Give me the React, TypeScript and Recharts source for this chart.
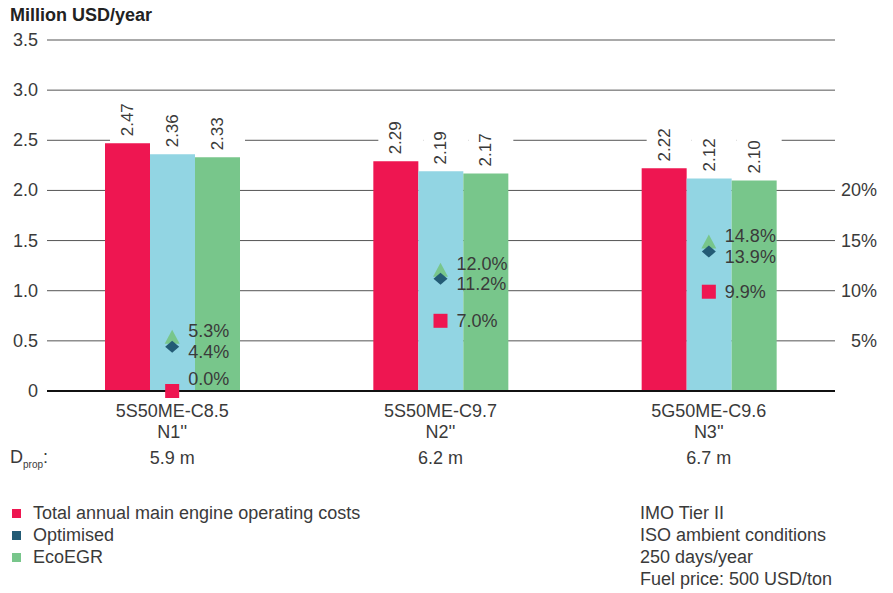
import {
  Bar,
  CartesianGrid,
  ComposedChart,
  Legend,
  ReferenceLine,
  Scatter,
  XAxis,
  YAxis,
} from "recharts";

const engines = ["5S50ME-C8.5", "5S50ME-C9.7", "5G50ME-C9.6"];
const variants = ["N1''", "N2''", "N3''"];
const propDiameters = ["5.9 m", "6.2 m", "6.7 m"];

// million USD/year
const totalCost = [2.47, 2.29, 2.22];
const optimisedCost = [2.36, 2.19, 2.12];
const ecoEgrCost = [2.33, 2.17, 2.1];

// percent
const totalPct = [0.0, 7.0, 9.9];
const optimisedPct = [4.4, 11.2, 13.9];
const ecoEgrPct = [5.3, 12.0, 14.8];

const costTicks = [0, 0.5, 1, 1.5, 2, 2.5, 3, 3.5];
const pctTicks = [5, 10, 15, 20];

const seriesNames = ["Total annual main engine operating costs", "Optimised", "EcoEGR"];
const legendColors = ["#EE1651", "#235B75", "#78C68B"];
const notes = ["IMO Tier II", "ISO ambient conditions", "250 days/year", "Fuel price: 500 USD/ton"];

const RED = "#EE1651";
const BLUE = "#92D5E3";
const GREEN = "#78C68B";
const TEAL = "#235B75";
const INK = "#3a3a3a";
const FONT = "'Liberation Sans', Arial, Helvetica, sans-serif";

const data = engines.map((engine, i) => ({
  engine,
  variant: variants[i],
  prop: propDiameters[i],
  total: totalCost[i],
  optimised: optimisedCost[i],
  ecoEgr: ecoEgrCost[i],
  totalPct: totalPct[i],
  optimisedPct: optimisedPct[i],
  ecoEgrPct: ecoEgrPct[i],
}));

function ValueLabel(props: any) {
  const { x, y, width, value } = props;
  const cx = x + width / 2;
  const y0 = y - 7;
  return (
    <g>
      <rect x={x + 5} y={y - 50} width={width} height={49} fill="#fff" />
      <text
        x={cx}
        y={y0}
        transform={`rotate(-90, ${cx}, ${y0})`}
        textAnchor="start"
        dominantBaseline="central"
        fontSize={17}
        fill={INK}
      >
        {Number(value).toFixed(2)}
      </text>
    </g>
  );
}

// percentage text beside a marker; dy keeps the stacked labels apart
function pctText(cx: number, cy: number, v: number, dy: number) {
  return (
    <text
      x={cx + 16}
      y={cy + dy}
      textAnchor="start"
      dominantBaseline="central"
      fontSize={18}
      fill={INK}
    >
      {v.toFixed(1)}%
    </text>
  );
}

function SquareMark(props: any) {
  const { cx, cy, payload } = props;
  const v = payload.totalPct;
  return (
    <g>
      <rect x={cx - 7} y={cy - 7} width={14} height={14} fill={RED} />
      {pctText(cx, cy, v, v === 0 ? -12 : 0)}
    </g>
  );
}

function DiamondMark(props: any) {
  const { cx, cy, payload } = props;
  return (
    <g>
      <polygon
        points={`${cx},${cy - 6} ${cx + 7},${cy} ${cx},${cy + 6} ${cx - 7},${cy}`}
        fill={TEAL}
      />
      {pctText(cx, cy, payload.optimisedPct, 5)}
    </g>
  );
}

function TriangleMark(props: any) {
  const { cx, cy, payload } = props;
  return (
    <g>
      <polygon
        points={`${cx},${cy - 8} ${cx + 7.5},${cy + 6} ${cx - 7.5},${cy + 6}`}
        fill={GREEN}
      />
      {pctText(cx, cy, payload.ecoEgrPct, -7)}
    </g>
  );
}

function CategoryTick(props: any) {
  const { x, y, payload } = props;
  const i = payload.index;
  return (
    <g fontSize={18} fill={INK}>
      <text x={x} y={y + 20} textAnchor="middle" dominantBaseline="central">
        {payload.value}
      </text>
      <text x={x} y={y + 41} textAnchor="middle" dominantBaseline="central">
        {variants[i]}
      </text>
      <text x={x} y={y + 67} textAnchor="middle" dominantBaseline="central">
        {propDiameters[i]}
      </text>
    </g>
  );
}

function CostTick(props: any) {
  const { x, y, payload } = props;
  const v = payload.value;
  return (
    <text x={x} y={y} textAnchor="end" dominantBaseline="central" fontSize={18} fill={INK}>
      {v === 0 ? "0" : v.toFixed(1)}
    </text>
  );
}

function PctTick(props: any) {
  const { x, y, payload } = props;
  return (
    <text x={x + 42} y={y} textAnchor="end" dominantBaseline="central" fontSize={18} fill={INK}>
      {payload.value}%
    </text>
  );
}

function LegendBox() {
  return (
    <div style={{ fontFamily: FONT, fontSize: 18, color: INK, lineHeight: "22px" }}>
      {seriesNames.map((name, i) => (
        <div key={name} style={{ display: "flex", alignItems: "center", whiteSpace: "nowrap" }}>
          <span
            style={{
              display: "inline-block",
              width: 9,
              height: 9,
              background: legendColors[i],
              marginRight: 12,
            }}
          />
          {name}
        </div>
      ))}
    </div>
  );
}

export default function App() {
  return (
    <div
      style={{
        position: "absolute",
        left: 0,
        top: 0,
        width: 893,
        height: 593,
        background: "#fff",
        fontFamily: FONT,
        color: INK,
      }}
    >
      <div
        style={{
          position: "absolute",
          left: 10,
          top: 5,
          fontSize: 18,
          fontWeight: "bold",
          color: "#222",
        }}
      >
        Million USD/year
      </div>
      <ComposedChart
        width={893}
        height={593}
        data={data}
        margin={{ top: 40, right: 0, bottom: 122, left: 0 }}
        barGap={0}
        barCategoryGap="25%"
      >
        <CartesianGrid yAxisId="cost" vertical={false} stroke="#555" />
        <XAxis
          dataKey="engine"
          padding={{ left: -9, right: -8 }}
          axisLine={false}
          tickLine={false}
          tickSize={0}
          tickMargin={0}
          height={80}
          interval={0}
          tick={<CategoryTick />}
        />
        <YAxis
          yAxisId="cost"
          domain={[0, 3.5]}
          ticks={costTicks}
          width={47}
          axisLine={false}
          tickLine={false}
          tickSize={0}
          tickMargin={9}
          tick={<CostTick />}
        />
        <YAxis
          yAxisId="pct"
          orientation="right"
          domain={[0, 35]}
          ticks={pctTicks}
          width={58}
          axisLine={false}
          tickLine={false}
          tickSize={0}
          tickMargin={0}
          tick={<PctTick />}
        />
        <Bar yAxisId="cost" dataKey="total" name={seriesNames[0]} fill={RED} barSize={45} isAnimationActive={false} label={<ValueLabel />} />
        <Bar yAxisId="cost" dataKey="optimised" name={seriesNames[1]} fill={BLUE} barSize={45} isAnimationActive={false} label={<ValueLabel />} />
        <Bar yAxisId="cost" dataKey="ecoEgr" name={seriesNames[2]} fill={GREEN} barSize={45} isAnimationActive={false} label={<ValueLabel />} />
        <ReferenceLine yAxisId="cost" y={0} stroke="#111" strokeWidth={2} />
        <Scatter yAxisId="pct" dataKey="ecoEgrPct" shape={<TriangleMark />} isAnimationActive={false} />
        <Scatter yAxisId="pct" dataKey="optimisedPct" shape={<DiamondMark />} isAnimationActive={false} />
        <Scatter yAxisId="pct" dataKey="totalPct" shape={<SquareMark />} isAnimationActive={false} />
        <Legend
          layout="vertical"
          align="center"
          verticalAlign="middle"
          wrapperStyle={{ left: 12, top: 502, width: 420 }}
          content={<LegendBox />}
        />
      </ComposedChart>
      <div style={{ position: "absolute", left: 10, top: 447, fontSize: 18 }}>
        D<sub style={{ fontSize: 10, verticalAlign: "-5px" }}>prop</sub>:
      </div>
      <div
        style={{
          position: "absolute",
          left: 640,
          top: 502,
          fontSize: 18,
          lineHeight: "22px",
          whiteSpace: "nowrap",
        }}
      >
        {notes.map((n) => (
          <div key={n}>{n}</div>
        ))}
      </div>
    </div>
  );
}
